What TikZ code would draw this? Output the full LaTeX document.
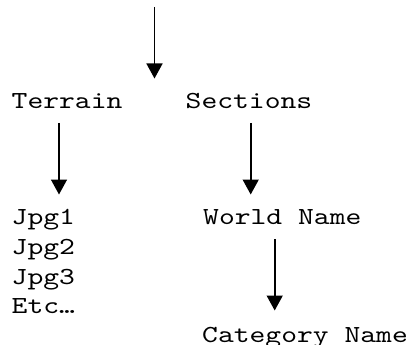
\documentclass[tikz,border=0pt]{standalone}
\usepackage{fontspec}
\usetikzlibrary{arrows.meta}
\newfontfamily\courfam{lmmono10-regular.otf}[FakeStretch=1.23]
\newcommand{\courfont}{\courfam\fontsize{24.5}{29.3}\selectfont}
\tikzset{
  lbl/.style={anchor=base west, inner sep=0pt, font=\courfont},
  arr/.style={line width=1.6pt, -{Triangle[width=16pt,length=15pt]}}
}
\begin{document}
\begin{tikzpicture}[x=1pt,y=-1pt]
\useasboundingbox (0,0) rectangle (413,345);
\node[lbl] (terrain) at (11.5,109) {Terrain};
\node[lbl] (sections) at (185.5,109) {Sections};
\node[lbl] (jpg1) at (11.5,225) {Jpg1};
\node[lbl] (jpg2) at (11.5,254.5) {Jpg2};
\node[lbl] (jpg3) at (11.5,284) {Jpg3};
\node[lbl] (etc) at (11.5,313) {Etc…};
\node[lbl] (world) at (203,225) {World Name};
\node[lbl] (category) at (202,342.5) {Category Name};
\coordinate (topS) at (154.5,7);
\coordinate (topE) at (154.5,78.5);
\coordinate (terS) at (59,123);
\coordinate (terE) at (59,194.5);
\coordinate (secS) at (250.7,123);
\coordinate (secE) at (250.7,194.5);
\coordinate (worS) at (274.7,239);
\coordinate (worE) at (274.7,310.5);
\draw[arr] (topS) -- (topE);
\draw[arr] (terS) -- (terE);
\draw[arr] (secS) -- (secE);
\draw[arr] (worS) -- (worE);
\end{tikzpicture}
\end{document}
